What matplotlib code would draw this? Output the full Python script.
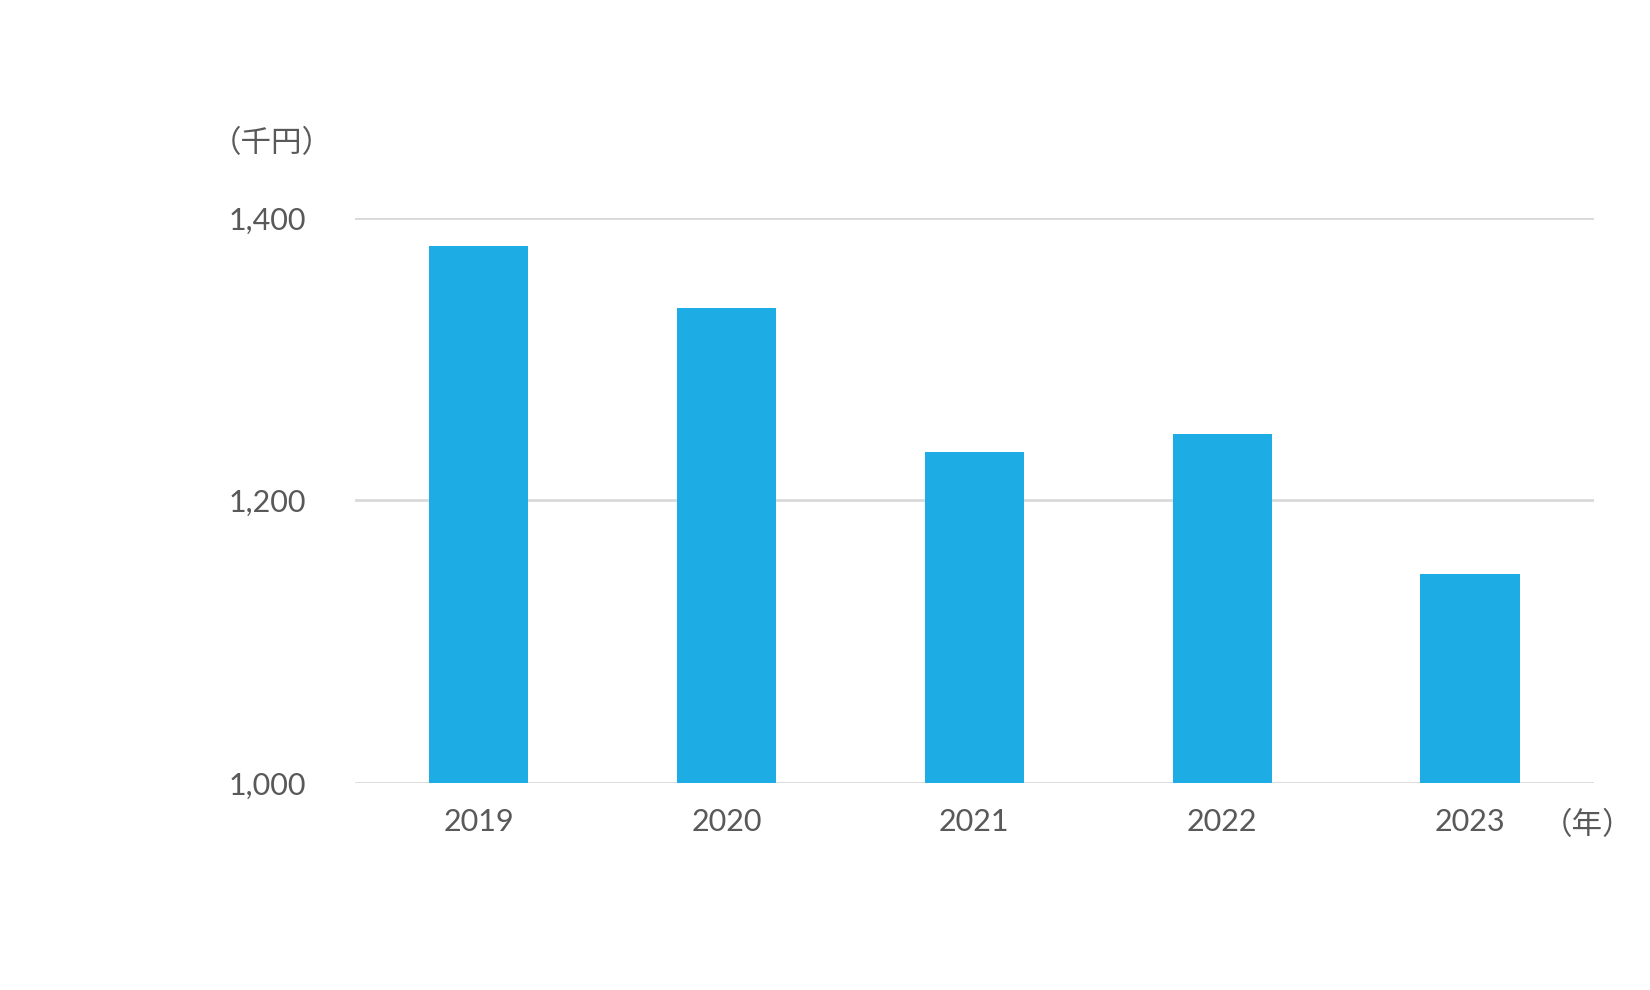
import matplotlib
matplotlib.use("Agg")
import matplotlib.pyplot as plt
from matplotlib.ticker import FuncFormatter

years = ["2019", "2020", "2021", "2022", "2023"]
values = [1380, 1336, 1234, 1247, 1148]
yticks = [1000, 1200, 1400]

plt.rcParams['font.family'] = ['Lato', 'Noto Sans CJK JP', 'DejaVu Sans']
fig = plt.figure(figsize=(16.5, 9.9), dpi=100)
ax = fig.add_axes([0.215, 0.209, 0.751, 0.571])
x = range(len(years))
ax.bar(x, values, width=0.4, color="#1DADE4", zorder=3)
ax.set_xlim(-0.5, len(years) - 0.5)
ax.set_ylim(1000, 1400)
ax.set_yticks(yticks)
ax.yaxis.set_major_formatter(FuncFormatter(lambda v, p: f"{int(v):,}"))
ax.set_xticks(list(x))
ax.set_xticklabels(years)
ax.grid(axis="y", color="#D9D9D9", linewidth=2, zorder=0)
for s in ax.spines.values():
    s.set_visible(False)
ax.tick_params(length=0, labelsize=22, colors="#595959")
ax.tick_params(axis="y", pad=35)
ax.tick_params(axis="x", pad=18)
fig.text(0.165, 0.855, "（千円）", fontsize=22, color="#595959",
         family=['Noto Sans CJK JP', 'DejaVu Sans'], ha="center", va="center")
fig.text(0.962, 0.166, "（年）", fontsize=22, color="#595959",
         family=['Noto Sans CJK JP', 'DejaVu Sans'], ha="center", va="center")
fig.savefig("out.png", dpi=100, facecolor="white")
